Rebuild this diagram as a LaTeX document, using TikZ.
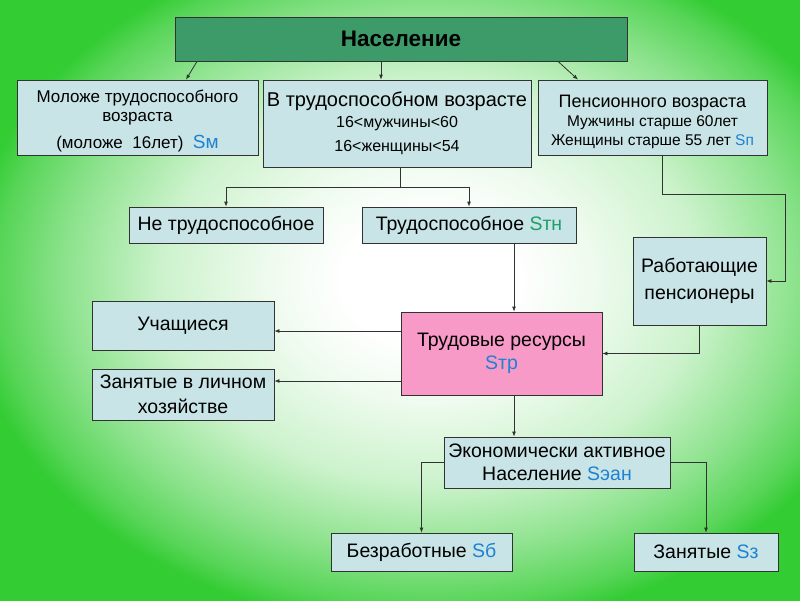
\documentclass[tikz,border=0pt]{standalone}
\usepackage{fontspec}
\setmainfont{Liberation Sans}
\usetikzlibrary{arrows.meta,calc}
\definecolor{bggreen}{RGB}{51,204,51}
\definecolor{boxblue}{RGB}{200,228,230}
\definecolor{topgreen}{RGB}{60,155,105}
\definecolor{respink}{RGB}{248,154,200}
\definecolor{sblue}{RGB}{30,130,210}
\definecolor{sgreen}{RGB}{30,160,100}
\definecolor{edge}{RGB}{50,50,50}
\pgfdeclareradialshading{bgshade}{\pgfpoint{0bp}{0bp}}{color(0bp)=(white); color(5bp)=(white); color(9.4bp)=(bggreen!8!white); color(15.7bp)=(bggreen!25!white); color(21.4bp)=(bggreen!57!white); color(25.1bp)=(bggreen!82!white); color(27bp)=(bggreen); color(50bp)=(bggreen)}
\newcommand{\fsz}[2]{\fontsize{#1}{#2}\selectfont}
\tikzset{
  box/.style={draw=edge, line width=0.8pt, fill=boxblue, align=center, inner sep=1pt, text=black, font=\fsz{19.5}{23}},
  arr/.style={draw=edge, line width=0.8pt, -{Latex[length=5pt,width=4pt]}},
  conn/.style={draw=edge, line width=0.8pt}
}
\begin{document}
\begin{tikzpicture}[x=1pt,y=-1pt]
\useasboundingbox (0,0) rectangle (800,600);
\fill[bggreen] (0,0) rectangle (800,600);
\shade[shading=bgshade] (0,-42) rectangle (860,603);
% boxes
\node[box, fill=topgreen, minimum width=452, minimum height=44, font=\fsz{22.5}{24}\bfseries] (pop) at (401,39) {Население};
\node[box, minimum width=241, minimum height=75, font=\fsz{17}{19.5}] (young) at (137.5,117.5) {\rule{0pt}{19pt}Моложе трудоспособного\\ возраста\\[7pt] (моложе\ \ 16лет)\ \ \textcolor{sblue}{\fsz{19}{19}Sм}};
\node[box, minimum width=268, minimum height=87, font=\fsz{20}{21}] (work) at (397,123.5) {В трудоспособном возрасте\\ {\fsz{16}{16}16<мужчины<60}\\[3pt] {\fsz{16}{16}16<женщины<54}};
\node[box, minimum width=229, minimum height=75, font=\fsz{18}{19}] (pens) at (652.5,117.5) {\rule{0pt}{21pt}Пенсионного возраста\\ {\fsz{15.5}{16}Мужчины старше 60лет}\\ {\fsz{15.5}{16}Женщины старше 55 лет \textcolor{sblue}{Sп}}};
\node[box, minimum width=194, minimum height=36] (notable) at (226,225) {Не трудоспособное};
\node[box, minimum width=214, minimum height=36] (able) at (469,225) {Трудоспособное \textcolor{sgreen}{Sтн}};
\node[box, minimum width=133, minimum height=88] (workpens) at (699.5,281) {Работающие\\[4pt] пенсионеры};
\node[box, minimum width=182, minimum height=49] (stud) at (183,325.5) {Учащиеся};
\node[box, fill=respink, minimum width=201, minimum height=83] (res) at (501.5,353.5) {Трудовые ресурсы\\ \textcolor{sblue}{Sтр}};
\node[box, minimum width=182, minimum height=51] (home) at (183,394.5) {Занятые в личном\\[2pt] хозяйстве};
\node[box, minimum width=226, minimum height=51] (econ) at (557,462.5) {Экономически активное\\ Население \textcolor{sblue}{Sэан}};
\node[box, minimum width=181, minimum height=38] (unemp) at (421.5,552) {Безработные \textcolor{sblue}{Sб}};
\node[box, minimum width=144, minimum height=38] (empl) at (706,552) {Занятые \textcolor{sblue}{Sз}};
% connectors
\draw[arr] ($(pop.south)+(-204,0)$) -- ($(young.north)+(48.5,0)$);
\draw[arr] ($(pop.south)+(-20,0)$) -- ($(work.north)+(-16,0)$);
\draw[arr] ($(pop.south)+(157,0)$) -- ($(pens.north)+(-74.5,0)$);
\coordinate (fork) at ($(work.south)+(3,20)$);
\draw[conn] ($(work.south)+(3,0)$) -- (fork);
\draw[arr] (fork) -| (notable.north);
\draw[arr] (fork) -| (able.north);
\coordinate (pr) at (785,194);
\draw[arr] ($(pens.south)+(9.5,0)$) |- (pr) |- (workpens.east);
\draw[arr] ($(able.south)+(45,0)$) -- ($(res.north)+(12.5,0)$);
\coordinate (r1) at ($(res.west)+(0,-22.5)$);
\coordinate (r2) at ($(res.west)+(0,27.5)$);
\draw[arr] (r1) -- (r1 -| stud.east);
\draw[arr] (r2) -- (r2 -| home.east);
\draw[arr] (workpens.south) |- (res.east);
\draw[arr] ($(res.south)+(12.5,0)$) -- ($(econ.north)+(-43,0)$);
\draw[arr] (econ.west) -| (unemp.north);
\draw[arr] (econ.east) -| (empl.north);
\end{tikzpicture}
\end{document}
